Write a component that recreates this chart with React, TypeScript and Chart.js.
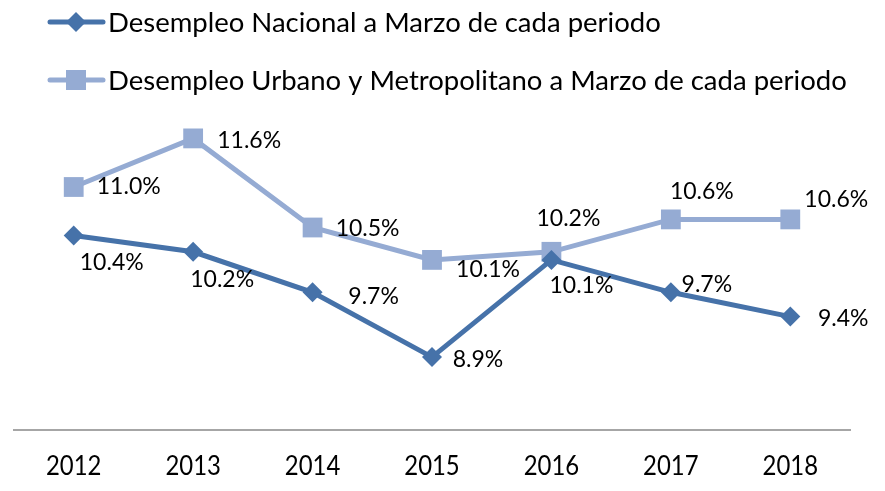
import React, { useEffect, useRef } from "react";
import { Chart, registerables } from "chart.js";

Chart.register(...registerables);

const years = ["2012", "2013", "2014", "2015", "2016", "2017", "2018"];
const nacional = [10.4, 10.2, 9.7, 8.9, 10.1, 9.7, 9.4];
const urbano = [11.0, 11.6, 10.5, 10.1, 10.2, 10.6, 10.6];
const seriesNames = [
  "Desempleo Nacional a Marzo de cada periodo",
  "Desempleo Urbano y Metropolitano a Marzo de cada periodo",
];

// label offsets (dx, dy) relative to each point, for styling only
const nacionalLabelOffsets = [
  [38, 27], [29, 28], [61, 4], [46, 2], [30, 26], [36, -8], [53, 2],
];
const urbanoLabelOffsets = [
  [55, 0], [56, 2], [55, 1], [56, 10], [17, -33], [31, -28], [46, -20],
];

const DARK = "#4672A9";
const LIGHT = "#95ABD3";
const FONT = "Lato, 'Open Sans', sans-serif";

const labelsPlugin = {
  id: "customLabels",
  afterDatasetsDraw(chart: any) {
    const ctx = chart.ctx;
    ctx.save();
    ctx.font = `23px ${FONT}`;
    ctx.fillStyle = "#000";
    ctx.textAlign = "center";
    ctx.textBaseline = "middle";
    const offs = [nacionalLabelOffsets, urbanoLabelOffsets];
    chart.data.datasets.forEach((ds: any, di: number) => {
      const meta = chart.getDatasetMeta(di);
      meta.data.forEach((pt: any, i: number) => {
        const v = ds.data[i];
        const [dx, dy] = offs[di][i];
        ctx.fillText(v.toFixed(1) + "%", pt.x + dx, pt.y + dy);
      });
    });
    ctx.restore();
  },
};

const xLabelsPlugin = {
  id: "xLabels",
  afterDraw(chart: any) {
    const ctx = chart.ctx;
    const xs = chart.scales.x;
    ctx.save();
    ctx.fillStyle = "#000";
    ctx.font = `26px ${FONT}`;
    ctx.textAlign = "center";
    ctx.textBaseline = "middle";
    const y = chart.chartArea.bottom + 37;
    chart.data.labels.forEach((lab: string, i: number) => {
      const x = xs.getPixelForValue(i);
      ctx.save();
      ctx.translate(x, y);
      ctx.scale(0.92, 1);
      ctx.fillText(lab, 0, 0);
      ctx.restore();
    });
    ctx.restore();
  },
};

const legendPlugin = {
  id: "customLegend",
  afterDraw(chart: any) {
    const ctx = chart.ctx;
    ctx.save();
    const rows = [22, 80];
    const colors = [DARK, LIGHT];
    rows.forEach((y, i) => {
      ctx.strokeStyle = colors[i];
      ctx.lineWidth = 5;
      ctx.lineCap = "round";
      ctx.beginPath();
      ctx.moveTo(50, y);
      ctx.lineTo(103, y);
      ctx.stroke();
      ctx.fillStyle = colors[i];
      ctx.beginPath();
      if (i === 0) {
        ctx.moveTo(76 - 10, y);
        ctx.lineTo(76, y - 10);
        ctx.lineTo(76 + 10, y);
        ctx.lineTo(76, y + 10);
        ctx.closePath();
        ctx.fill();
      } else {
        ctx.fillRect(76 - 10, y - 10, 20, 20);
      }
      ctx.fillStyle = "#000";
      ctx.font = `27.5px ${FONT}`;
      ctx.textAlign = "left";
      ctx.textBaseline = "middle";
      ctx.fillText(seriesNames[i], 108, y + 1);
    });
    ctx.restore();
  },
};

export default function App() {
  const ref = useRef<HTMLCanvasElement>(null);
  useEffect(() => {
    if (!ref.current) return;
    const chart = new Chart(ref.current, {
      type: "line",
      data: {
        labels: years,
        datasets: [
          {
            label: seriesNames[0],
            data: nacional,
            borderColor: DARK,
            backgroundColor: DARK,
            borderWidth: 5,
            pointStyle: "rectRot",
            pointRadius: 10,
            pointHoverRadius: 10,
            pointBorderWidth: 0,
            tension: 0,
          },
          {
            label: seriesNames[1],
            data: urbano,
            borderColor: LIGHT,
            backgroundColor: LIGHT,
            borderWidth: 5,
            pointStyle: "rect",
            pointRadius: 14,
            pointHoverRadius: 14,
            pointBorderWidth: 0,
            tension: 0,
          },
        ],
      },
      options: {
        animation: false,
        responsive: false,
        layout: { padding: { top: 106, left: 12, right: 35, bottom: 61 } },
        plugins: {
          legend: { display: false },
          tooltip: { enabled: false },
        },
        scales: {
          x: {
            offset: true,
            grid: { display: false, drawTicks: false },
            border: { display: true, color: "#A6A6A6", width: 2 },
            ticks: { display: false },
          },
          y: {
            display: false,
            min: 8,
            max: 12,
          },
        },
      },
      plugins: [labelsPlugin, xLabelsPlugin, legendPlugin],
    });
    return () => chart.destroy();
  }, []);
  return (
    <div style={{ position: "fixed", left: 0, top: 0, width: 885, height: 491, background: "#fff" }}>
      <canvas ref={ref} width={885} height={491} />
    </div>
  );
}
